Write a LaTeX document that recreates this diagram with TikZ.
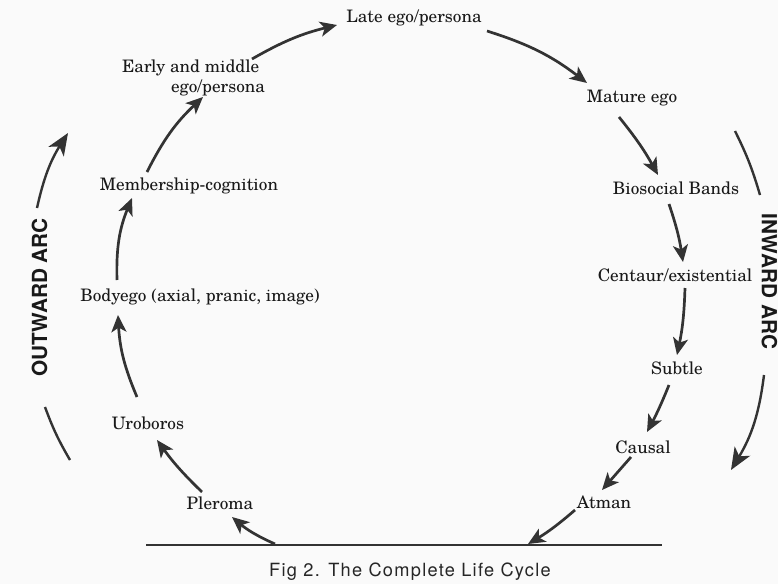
\documentclass[tikz,border=0pt]{standalone}
\usepackage{fontspec}
\setmainfont{TeX Gyre Schola}
\newfontfamily\arcfont{TeX Gyre Heros}
\newfontfamily\capfont[LetterSpace=7]{TeX Gyre Heros}
\usetikzlibrary{arrows.meta}

\begin{document}
\begin{tikzpicture}[x=0.5pt,y=0.5pt,
  stage/.style={inner sep=0pt, font=\fontsize{8.6}{10.2}\selectfont, text=black!90},
  arr/.style={draw=black!80, line width=1.35pt,
    -{Stealth[length=8.5pt,width=7.5pt,inset=2.2pt]}},
  arcarr/.style={draw=black!80, line width=1.2pt,
    -{Stealth[length=11pt,width=9pt,inset=3pt]}},
  arcline/.style={draw=black!80, line width=1.2pt},
  arclabel/.style={inner sep=0pt, font=\arcfont\bfseries\fontsize{10.4}{12}\selectfont, text=black!90},
  baseline rule/.style={draw=black!80, line width=1.1pt}]

% page tone
\fill[gray!4] (0,0) rectangle (778,-584);
\useasboundingbox (0,0) rectangle (778,-584);

% outward arc (left side, read upwards)
\node[stage] (late)     at (414,-18)  {Late ego/persona};
\node[stage, align=left] (early) at (193.5,-78)
  {Early and middle\\\hspace*{24.5pt}ego/persona};
\node[stage] (memb)     at (189,-186) {Membership-cognition};
\node[stage] (body)     at (200,-297) {Bodyego (axial, pranic, image)};
\node[stage] (uro)      at (148,-423) {Uroboros};
\node[stage] (pleroma)  at (220,-503) {Pleroma};

% inward arc (right side, read downwards)
\node[stage] (mature)   at (632,-98)  {Mature ego};
\node[stage] (bio)      at (676,-188) {Biosocial Bands};
\node[stage] (centaur)  at (675,-275) {Centaur/existential};
\node[stage] (subtle)   at (677,-368) {Subtle};
\node[stage] (causal)   at (643,-447) {Causal};
\node[stage] (atman)    at (604,-502) {Atman};

% arc labels
\node[arclabel, rotate=90]  (outlbl) at (39.5,-297.5) {OUTWARD ARC};
\node[arclabel, rotate=-90] (inlbl)  at (769.5,-281.5) {INWARD ARC};

% ground line and caption
\coordinate (gl) at (146,-545);
\coordinate (gr) at (662,-545);
\coordinate (gout) at (275,-544);
\coordinate (gin)  at (528,-544);
\draw[baseline rule] (gl) -- (gr);
\node[anchor=base, inner sep=0pt, text=black!85,
      font=\capfont\fontsize{9.1}{11}\selectfont] (cap) at (410,-576)
  {Fig 2. The Complete Life Cycle};

% stage-to-stage arrows, outward
\draw[arr] (gout) to[bend left=8]
  ([shift={(12,-14)}]pleroma.center);
\draw[arr] ([shift={(-18,11)}]pleroma.center) to[bend left=5]
  ([shift={(9,-17)}]uro.center);
\draw[arr] ([shift={(-11,26)}]uro.center) to[bend left=10]
  ([shift={(-82,-18)}]body.center);
\draw[arr] ([shift={(-83,17)}]body.center) to[bend left=12]
  ([shift={(-57,-12)}]memb.center);
\draw[arr] ([shift={(-42,14)}]memb.center) to[bend left=10]
  ([shift={(9.5,-19)}]early.center);
\draw[arr] ([shift={(58.5,19)}]early.center) to[bend left=8]
  ([shift={(-77,-7)}]late.center);

% stage-to-stage arrows, inward
\draw[arr] ([shift={(73,-13)}]late.center) to[bend left=10]
  ([shift={(-45,15)}]mature.center);
\draw[arr] ([shift={(-13,-19)}]mature.center) to[bend left=5]
  ([shift={(-18,13)}]bio.center);
\draw[arr] ([shift={(-7,-16)}]bio.center) to[bend left=5]
  ([shift={(8,13)}]centaur.center);
\draw[arr] ([shift={(10,-13)}]centaur.center) to[bend left=5]
  ([shift={(0,13)}]subtle.center);
\draw[arr] ([shift={(-8,-17)}]subtle.center) to[bend left=3]
  ([shift={(4,15)}]causal.center);
\draw[arr] ([shift={(-12,-10)}]causal.center) --
  ([shift={(-2,12)}]atman.center);
\draw[arr] ([shift={(-29,-8)}]atman.center) to[bend left=5] (gin);

% the two great arcs around the cycle
\draw[arcline] ([shift={(30.5,-162.5)}]outlbl.center) to[bend left=5]
  ([shift={(5.5,-109.5)}]outlbl.center);
\draw[arcarr] ([shift={(-2.5,89.5)}]outlbl.center) to[bend left=10]
  ([shift={(28.5,164.5)}]outlbl.center);
\draw[arcline] ([shift={(-34.5,150.5)}]inlbl.center) to[bend left=5]
  ([shift={(-9.5,86.5)}]inlbl.center);
\draw[arcarr] ([shift={(-5.5,-93.5)}]inlbl.center) to[bend left=12]
  ([shift={(-38.5,-188.5)}]inlbl.center);
\end{tikzpicture}
\end{document}
